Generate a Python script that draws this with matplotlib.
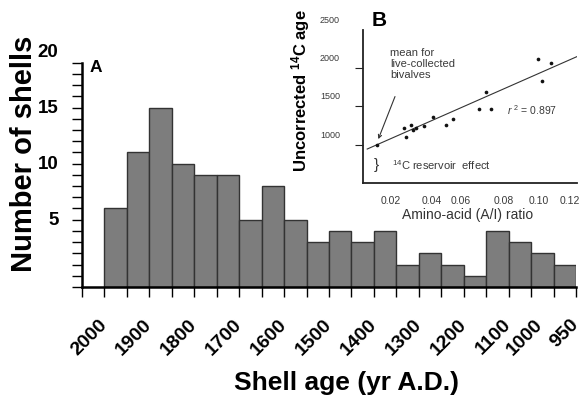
import matplotlib
matplotlib.use('Agg')
import matplotlib.pyplot as plt
import matplotlib.transforms as mtransforms

plt.rcParams['font.family'] = ['Liberation Sans', 'DejaVu Sans']
plt.rcParams['mathtext.fontset'] = 'custom'
plt.rcParams['mathtext.rm'] = 'Liberation Sans'
plt.rcParams['mathtext.it'] = 'Liberation Sans:italic'
plt.rcParams['mathtext.bf'] = 'Liberation Sans:bold'

# ---------------- Panel A data ----------------
bin_newer_edge = list(range(2000, 950, -50))          # 50-yr bins, 2000 -> 1000
counts = [7, 12, 16, 11, 10, 10, 6, 9, 6, 4, 5, 4, 5, 2, 3, 2, 1, 5, 4, 3, 2]
a_xtick_labels = ['2000', '1900', '1800', '1700', '1600', '1500', '1400',
                  '1300', '1200', '1100', '1000', '950']
a_xtick_pos = [2000, 1900, 1800, 1700, 1600, 1500, 1400, 1300, 1200, 1100, 1030, 950]
a_ytick_labels = ['5', '10', '15', '20']
a_ytick_vals = [5, 10, 15, 20]

# ---------------- Panel B data ----------------
b_ratio = [0.0117, 0.0268, 0.0279, 0.0305, 0.0317, 0.0335, 0.0379, 0.0428,
           0.0502, 0.0542, 0.0685, 0.0722, 0.0753, 0.1014, 0.1037, 0.1083]
b_age = [994, 1212, 1102, 1256, 1190, 1212, 1247, 1364,
         1256, 1330, 1469, 1688, 1469, 2116, 1836, 2064]
b_fit_x = [0.0064, 0.1228]
b_fit_y = [941, 2150]
b_xtick_labels = ['0.02', '0.04', '0.06', '0.08', '0.10', '0.12']
b_xtick_pos = [0.0192, 0.0424, 0.0583, 0.0822, 0.1016, 0.1188]
b_ytick_labels = ['1000', '1500', '2000', '2500']
b_ytick_vals = [1000, 1500, 2000, 2500]

W, H = 584, 398
fig = plt.figure(figsize=(W / 100, H / 100), dpi=100)

# ================= Panel A =================
ax = fig.add_axes([82 / W, (H - 287) / H, (576 - 82) / W, (287 - 62.7) / H])
ax.bar(bin_newer_edge, counts, width=-50, align='edge', color='#7d7d7d',
       edgecolor='#333333', linewidth=1.0, zorder=2)
ax.set_xlim(2050, 950)
ax.set_ylim(0, 20)
for s in ['top', 'right']:
    ax.spines[s].set_visible(False)
for s in ['left', 'bottom']:
    ax.spines[s].set_linewidth(1.8)
    ax.spines[s].set_color('black')
    ax.spines[s].set_zorder(3)

xt = list(range(2050, 949, -50))
ax.set_xticks(xt)
ax.set_xticklabels([])
ax.tick_params(axis='x', length=7.2, width=1.0, direction='out')
for i, t in enumerate(ax.xaxis.get_major_ticks()):
    t.tick1line.set_color('black' if i % 2 == 0 else '#9a9a9a')

ax.set_yticks(list(range(0, 21)))
ax.set_yticklabels([])
ax.tick_params(axis='y', length=7.2, width=1.0, direction='out', color='black')

# x labels (rotated)
trans_x = mtransforms.blended_transform_factory(ax.transData, ax.transAxes) + \
    mtransforms.ScaledTranslation(-6 / 100, -29 / 100, fig.dpi_scale_trans)
for lab, p in zip(a_xtick_labels, a_xtick_pos):
    ax.text(p, 0, lab, transform=trans_x, rotation=45, ha='right', va='top',
            rotation_mode='anchor', fontsize=14, fontweight='bold')

# y labels (shifted up, as in the original)
trans_y = mtransforms.blended_transform_factory(ax.transAxes, ax.transData) + \
    mtransforms.ScaledTranslation(-23.5 / 100, 10.5 / 100, fig.dpi_scale_trans)
for lab, v in zip(a_ytick_labels, a_ytick_vals):
    ax.text(0, v, lab, transform=trans_y, ha='right', va='center',
            fontsize=13.5, fontweight='bold')

fig.text(24 / W, 1 - 154 / H, 'Number of shells', rotation=90, ha='center',
         va='center', fontsize=21, fontweight='bold')
fig.text(347 / W, 1 - 383 / H, 'Shell age (yr A.D.)', ha='center', va='center',
         fontsize=19, fontweight='bold')
fig.text(90 / W, 1 - 60 / H, 'A', ha='left', va='top', fontsize=12.5, fontweight='bold')

# ================= Panel B (inset) =================
bx = fig.add_axes([362.5 / W, (H - 182.7) / H, (576.7 - 362.5) / W, (182.7 - 30) / H])
bx.set_facecolor('white')
bx.set_xlim(0.00378, 0.1228)
bx.set_ylim(500, 2500)
for s in ['top', 'right']:
    bx.spines[s].set_visible(False)
for s in ['left', 'bottom']:
    bx.spines[s].set_linewidth(1.3)
    bx.spines[s].set_color('#222222')

bx.plot(b_fit_x, b_fit_y, color='#333333', linewidth=0.8, zorder=2)
bx.scatter(b_ratio, b_age, s=7, color='#111111', zorder=3, linewidths=0)

bx.set_xticks([])
bx.set_yticks(b_ytick_vals[:-1])
bx.set_yticklabels([])
bx.tick_params(axis='y', length=5.8, width=0.8, color='#222222', direction='out')

trans_by = mtransforms.blended_transform_factory(bx.transAxes, bx.transData) + \
    mtransforms.ScaledTranslation(-22.5 / 100, 9.5 / 100, fig.dpi_scale_trans)
for lab, v in zip(b_ytick_labels, b_ytick_vals):
    bx.text(0, v, lab, transform=trans_by, ha='right', va='center',
            fontsize=6.5, color='#3a3a3a')

trans_bx = mtransforms.blended_transform_factory(bx.transData, bx.transAxes) + \
    mtransforms.ScaledTranslation(0, -18.3 / 100, fig.dpi_scale_trans)
for lab, p in zip(b_xtick_labels, b_xtick_pos):
    bx.text(p, 0, lab, transform=trans_bx, ha='center', va='center',
            fontsize=7.5, color='#3a3a3a')

fig.text(468 / W, 1 - 215 / H, 'Amino-acid (A/I) ratio', ha='center', va='center',
         fontsize=10, color='#333333')
fig.text(301 / W, 1 - 91 / H, r'Uncorrected $^{\mathbf{14}}$C age', rotation=90,
         ha='center', va='center', fontsize=12, fontweight='bold')
fig.text(371.7 / W, 1 - 10.5 / H, 'B', ha='left', va='top', fontsize=15,
         fontweight='bold')

bx.annotate('', xy=(0.012, 1037), xytext=(0.0224, 1662),
            arrowprops=dict(arrowstyle='->', color='#333333', lw=0.8,
                            mutation_scale=6))
bx.text(0.019, 2056, 'mean for\nlive-collected\nbivalves', ha='left', va='center',
        fontsize=8, color='#3a3a3a', linespacing=1.1)
bx.text(0.084, 1452, r'$\it{r}$ $^{2}$ = 0.897', ha='left', va='center',
        fontsize=7.5, color='#3a3a3a')
bx.text(0.01156, 732, '}', ha='center', va='center', fontsize=11, color='#333333')
bx.text(0.02, 732, r'$^{14}$C reservoir  effect', ha='left', va='center',
        fontsize=8, color='#3a3a3a')

fig.savefig('out.png', dpi=100)
